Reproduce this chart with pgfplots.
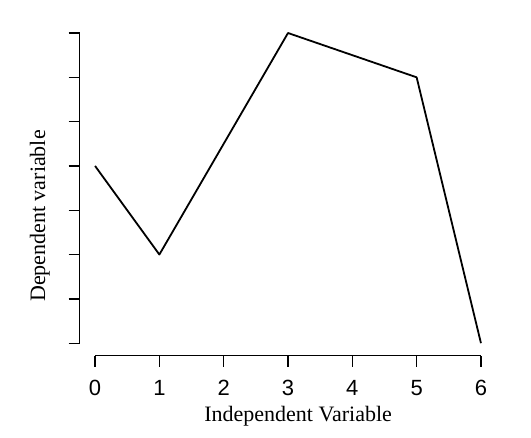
\documentclass[border=0pt]{standalone}
\usepackage{fontspec}
\setmainfont{Liberation Serif}
\newfontfamily\arialfont{Liberation Sans}
\usepackage{pgfplots}
\pgfplotsset{compat=1.18}
\begin{document}
\begin{tikzpicture}
\begin{axis}[
  scale only axis, width=416.7pt, height=334.9pt,
  xmin=-0.24, xmax=6.24, ymin=-0.28, ymax=7.28,
  axis x line*=bottom, axis y line*=left,
  axis line style={draw=none,-},
  xtick={0,...,6}, ytick={0,...,7}, yticklabels={},
  tick align=outside, major tick length=11pt,
  tick style={black, line width=1.3pt},
  /pgf/number format/assume math mode=true,
  xticklabel style={font=\arialfont\fontsize{22}{22}\selectfont, anchor=base, yshift=-29pt},
  xlabel={Independent Variable},
  ylabel={Dependent variable},
  label style={font=\fontsize{22}{22}\selectfont},
  x label style={at={(axis cs:3.157,-1.76)}, anchor=base},
  y label style={at={(axis cs:-0.778,2.87)}, anchor=base, rotate=0},
  clip=false,
]
\addplot[black, line width=1.8pt, line join=round] coordinates {(0,4) (1,2) (3,7) (5,6) (6,0)};
\draw[line width=1.3pt] (axis cs:0,-0.28) -- (axis cs:6,-0.28);
\draw[line width=1.3pt] (axis cs:-0.24,0) -- (axis cs:-0.24,7);
\end{axis}
\path ([xshift=-79.6pt,yshift=-81.6pt]current axis.south west) rectangle ([xshift=34.6pt,yshift=20.6pt]current axis.north east);
\end{tikzpicture}
\end{document}
